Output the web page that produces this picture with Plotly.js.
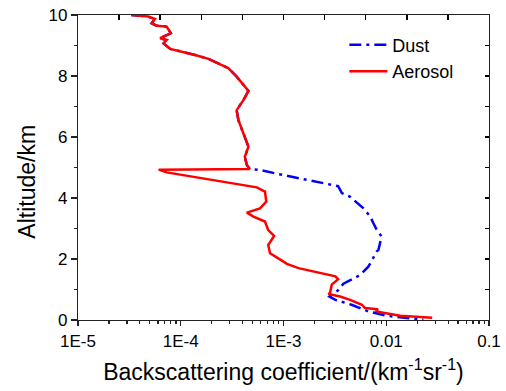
<!DOCTYPE html>
<html>
<head>
<meta charset="utf-8">
<script src="https://cdn.plot.ly/plotly-3.0.1.min.js"></script>
<style>html,body{margin:0;padding:0;background:#fff;}#chart{width:506px;height:391px;}</style>
</head>
<body>
<div id="chart"></div>
<script>
// Dust backscattering profile (km^-1 sr^-1) vs altitude (km)
const dustAlt = [10.0, 9.95, 9.87, 9.73, 9.65, 9.62, 9.40, 9.24, 9.18, 9.07, 8.89, 8.80, 8.69, 8.56, 8.42, 8.26, 7.98, 7.71, 7.51, 7.21, 6.88, 6.55, 6.12, 5.68, 5.35, 5.08, 4.95,
  4.92, 4.75, 4.54, 4.39, 4.16, 4.04, 3.66, 3.39, 3.17, 2.95, 2.74, 2.30, 2.25, 1.75, 1.48, 1.26, 1.19, 0.99, 0.94, 0.77, 0.66, 0.50, 0.34, 0.28, 0.14, 0.01];
const dustBeta = [3.3e-5, 4.8e-5, 5.6e-5, 5.2e-5, 5.8e-5, 7.3e-5, 8.0e-5, 6.3e-5, 7.3e-5, 6.8e-5, 7.9e-5, 1.02e-4, 1.38e-4, 1.86e-4, 2.32e-4, 2.9e-4, 3.5e-4, 4.07e-4, 4.56e-4, 4.07e-4, 3.5e-4, 3.64e-4, 4.07e-4, 4.56e-4, 4.2e-4, 4.4e-4, 4.7e-4,
  5.9e-4, 1.0e-3, 2.1e-3, 3.4e-3, 3.7e-3, 4.45e-3, 6.0e-3, 7.0e-3, 7.5e-3, 8.1e-3, 9.0e-3, 8.4e-3, 8.1e-3, 6.7e-3, 5.6e-3, 4.2e-3, 3.83e-3, 3.43e-3, 3.3e-3, 2.8e-3, 3.2e-3, 4.6e-3, 6.2e-3, 6.7e-3, 1.0e-2, 2.3e-2];

// Aerosol backscattering profile
const aerosolAlt = [10.0, 9.95, 9.87, 9.73, 9.65, 9.62, 9.40, 9.24, 9.18, 9.07, 8.89, 8.80, 8.69, 8.56, 8.42, 8.26, 7.98, 7.71, 7.51, 7.21, 6.88, 6.55, 6.12, 5.68, 5.35, 5.08, 4.95,
  4.93, 4.84, 4.75, 4.61, 4.46, 4.35, 4.21, 3.88, 3.66, 3.52, 3.39, 3.23, 2.95, 2.76, 2.46, 2.19, 1.97, 1.84, 1.70, 1.56, 1.43, 1.34, 1.16, 0.90, 0.85, 0.77, 0.66, 0.50, 0.39, 0.35, 0.30, 0.26, 0.20, 0.14, 0.07];
const aerosolBeta = [3.3e-5, 4.8e-5, 5.6e-5, 5.2e-5, 5.8e-5, 7.3e-5, 8.0e-5, 6.3e-5, 7.3e-5, 6.8e-5, 7.9e-5, 1.02e-4, 1.38e-4, 1.86e-4, 2.32e-4, 2.9e-4, 3.5e-4, 4.07e-4, 4.56e-4, 4.07e-4, 3.5e-4, 3.64e-4, 4.07e-4, 4.56e-4, 4.2e-4, 4.4e-4, 4.7e-4,
  6.1e-5, 7.3e-5, 1.06e-4, 1.93e-4, 3.25e-4, 5.5e-4, 6.6e-4, 6.8e-4, 5.9e-4, 4.4e-4, 5.1e-4, 6.6e-4, 7.1e-4, 8.1e-4, 7.1e-4, 7.4e-4, 9.4e-4, 1.08e-3, 1.4e-3, 2.1e-3, 3.2e-3, 3.4e-3, 2.95e-3, 2.84e-3, 2.74e-3, 3.56e-3, 4.45e-3, 5.8e-3, 6.2e-3, 8.3e-3, 8.0e-3, 8.5e-3, 1.09e-2, 1.37e-2, 2.8e-2];

const xTickVals = [1e-5, 1e-4, 1e-3, 1e-2, 1e-1];
const xTickText = ['1E-5', '1E-4', '1E-3', '0.01', '0.1'];
const seriesNames = ['Dust', 'Aerosol'];

const xMinor = [];
for (let e = -5; e < -1; e++) for (let d = 2; d <= 9; d++) xMinor.push(d * Math.pow(10, e));

const FONT = '"Liberation Sans", Arial, sans-serif';

const traces = [
  {x: dustBeta, y: dustAlt, name: seriesNames[0], type: 'scatter', mode: 'lines',
   line: {color: '#0000FF', width: 2.5, dash: '12px,5px,3px,5px'}},
  {x: aerosolBeta, y: aerosolAlt, name: seriesNames[1], type: 'scatter', mode: 'lines',
   line: {color: '#FF0000', width: 2.5}},
  // placeholder traces (no visible points) that activate the mirrored top/right tick axes
  {x: [null], y: [null], xaxis: 'x2', yaxis: 'y', type: 'scatter', mode: 'lines', showlegend: false},
  {x: [null], y: [null], xaxis: 'x', yaxis: 'y2', type: 'scatter', mode: 'lines', showlegend: false}
];

const layout = {
  width: 506, height: 391,
  margin: {l: 78, r: 17, t: 15, b: 71},
  paper_bgcolor: '#fff', plot_bgcolor: '#fff',
  font: {family: FONT, size: 17, color: '#000'},
  showlegend: true,
  legend: {x: 0.648, y: 0.962, xanchor: 'left', yanchor: 'top', bgcolor: 'rgba(0,0,0,0)',
           font: {family: FONT, size: 18, color: '#000'}, itemwidth: 38, tracegroupgap: 0},
  xaxis: {type: 'log', range: [-5, -1], tickmode: 'array', tickvals: xTickVals, ticktext: xTickText,
          ticks: 'outside', ticklen: 5, tickwidth: 1.2, tickcolor: '#222',
          minor: {tickmode: 'array', tickvals: xMinor, ticks: 'outside', ticklen: 3, tickwidth: 1.2, tickcolor: '#222', showgrid: false},
          showline: true, linecolor: '#222', linewidth: 1.2, mirror: true,
          showgrid: false, zeroline: false, tickfont: {size: 17},
          title: {text: 'Backscattering coefficient/(km<sup>-1</sup>sr<sup>-1</sup>)', font: {size: 23}, standoff: 14}},
  yaxis: {range: [0, 10], tickmode: 'linear', tick0: 0, dtick: 2,
          ticks: 'outside', ticklen: 6, tickwidth: 1.2, tickcolor: '#222',
          minor: {tick0: 0, dtick: 1, ticks: 'outside', ticklen: 3, tickwidth: 1.2, tickcolor: '#222', showgrid: false},
          showline: true, linecolor: '#222', linewidth: 1.2, mirror: true,
          showgrid: false, zeroline: false, tickfont: {size: 17}},
  xaxis2: {overlaying: 'x', anchor: 'y', side: 'top', range: [0, 10], dtick: 1,
           ticks: 'inside', ticklen: 5, tickwidth: 1.5, tickcolor: '#000', showticklabels: false, showgrid: false},
  yaxis2: {overlaying: 'y', anchor: 'x', side: 'right', range: [0, 10], dtick: 1,
           ticks: 'inside', ticklen: 4, tickwidth: 1.5, tickcolor: '#000', showticklabels: false, showgrid: false},
  annotations: [
    {text: 'Altitude/km', xref: 'paper', yref: 'paper', x: (27 - 78) / 411, y: (320.3 - 182) / 305,
     xanchor: 'center', yanchor: 'middle', textangle: -90, showarrow: false, font: {family: FONT, size: 23, color: '#000'}}
  ]
};

Plotly.newPlot('chart', traces, layout, {staticPlot: true, displayModeBar: false});
</script>
</body>
</html>
